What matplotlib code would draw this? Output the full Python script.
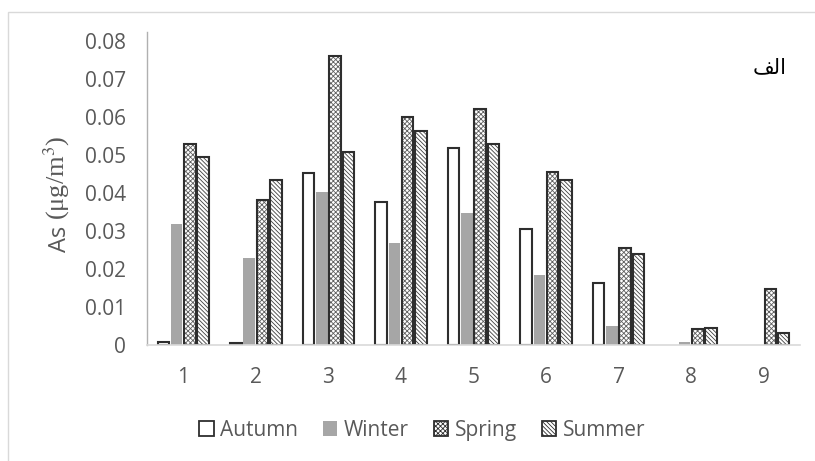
import numpy as np
import matplotlib.pyplot as plt
from matplotlib.patches import Rectangle, Patch

# As concentration per site and season
sites = ['1', '2', '3', '4', '5', '6', '7', '8', '9']
autumn = [0.0008, 0.0005, 0.0453, 0.0376, 0.0519, 0.0305, 0.0164, 0.0, 0.0]
winter = [0.0318, 0.0228, 0.0403, 0.0268, 0.0349, 0.0184, 0.0050, 0.0009, 0.0]
spring = [0.0529, 0.0382, 0.0761, 0.0602, 0.0623, 0.0457, 0.0256, 0.0041, 0.0148]
summer = [0.0495, 0.0434, 0.0509, 0.0563, 0.0529, 0.0434, 0.0239, 0.0044, 0.0031]
yticks = [0, 0.01, 0.02, 0.03, 0.04, 0.05, 0.06, 0.07, 0.08]
ytick_labels = ['0', '0.01', '0.02', '0.03', '0.04', '0.05', '0.06', '0.07', '0.08']

plt.rcParams['font.family'] = ['Open Sans', 'DejaVu Sans']
plt.rcParams['mathtext.fontset'] = 'stix'
plt.rcParams['hatch.linewidth'] = 0.6

W, H = 815, 461
fig = plt.figure(figsize=(W / 100, H / 100), dpi=100)

# light frame around the chart area
fig.patches.append(Rectangle((8 / W, -0.1), 1.2, 1 - 12 / H + 0.1, transform=fig.transFigure,
                             fill=False, edgecolor='#d9d9d9', linewidth=1.0))

ax = fig.add_axes([147 / W, (H - 345) / H, 653 / W, 313 / H])

x = np.arange(1, len(sites) + 1)
slot = 0.183
bw = 0.16
edge = '#2e2e2e'
# (name, values, fill, hatch, hatch colour, outlined)
series = [
    ('Autumn', autumn, 'white', None, None, True),
    ('Winter', winter, '#a6a6a6', None, None, False),
    ('Spring', spring, 'white', 'x' * 7, '#606060', True),
    ('Summer', summer, 'white', '\\' * 8, '#404040', True),
]
handles = []
for i, (name, vals, fc, hatch, hc, outlined) in enumerate(series):
    xs = x + (i - 1.5) * slot
    vals = np.array(vals)
    keep = vals > 0
    # fill + hatch first, then the dark outline on top
    ax.bar(xs[keep], vals[keep], width=bw, facecolor=fc,
           edgecolor=hc if hatch else 'none', linewidth=0, hatch=hatch)
    if outlined:
        ax.bar(xs[keep], vals[keep], width=bw, fill=False, edgecolor=edge, linewidth=1.5)
    handles.append(Patch(label=name, facecolor=fc, hatch=hatch,
                         edgecolor=edge if outlined else 'none',
                         linewidth=1.3 if outlined else 0))

ax.set_xlim(0.5, 9.5)
ax.set_ylim(0, 0.0825)
ax.set_xticks(x)
ax.set_xticklabels(sites)
ax.set_yticks(yticks)
ax.set_yticklabels(ytick_labels)
ax.tick_params(length=0, labelsize=15, colors='#595959')
ax.tick_params(axis='y', pad=15)
ax.tick_params(axis='x', pad=16)
for s in ['top', 'right']:
    ax.spines[s].set_visible(False)
ax.spines['left'].set_color('#b0b0b0')
ax.spines['bottom'].set_color('#d9d9d9')
ax.spines['left'].set_linewidth(1.0)
ax.spines['bottom'].set_linewidth(1.2)

# y axis title: "As" in sans, unit in serif
yl = 1 - 226 / H
fig.text(60 / W, yl, 'As', rotation=90, ha='center', va='top',
         fontsize=17, color='#595959')
fig.text(57 / W, yl + 0.012, '(\u03bcg/m$^3$)', rotation=90, ha='center', va='bottom',
         fontsize=19, color='#595959', family='Liberation Serif')

# panel label (alef-lam-feh, shaped forms in visual order)
fig.text(770 / W, 1 - 67 / H, '\ufed2\ufedf\ufe8d', ha='center', va='center',
         fontsize=15, color='black', family='DejaVu Sans')

fig.legend(handles=handles, loc='center', bbox_to_anchor=(422 / W, 1 - 430 / H),
           ncol=4, frameon=False, fontsize=15, labelcolor='#595959',
           handlelength=0.7, handleheight=0.7, handletextpad=0.3, columnspacing=1.2)

fig.savefig('out.png', dpi=100)
